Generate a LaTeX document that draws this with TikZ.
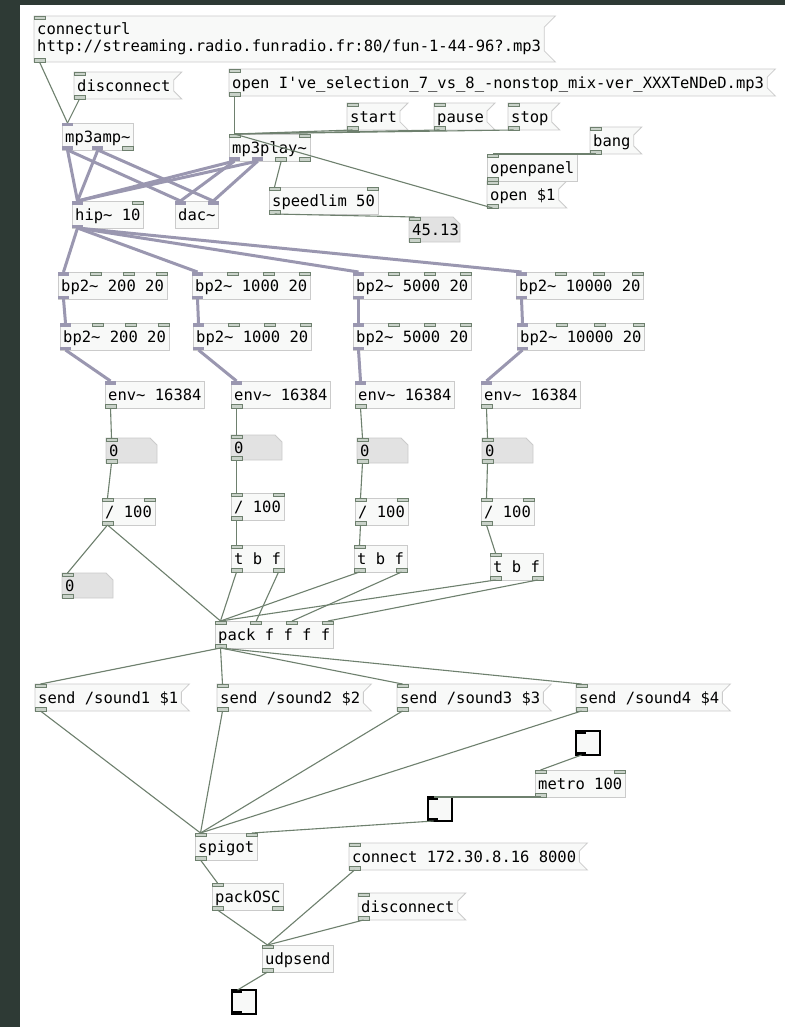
\documentclass[tikz,border=0pt]{standalone}
\usepackage{fontspec}
\setmonofont{DejaVu Sans Mono}
\usepackage{xcolor}
\usepackage{tikz}
\usetikzlibrary{calc, backgrounds}
\definecolor{canvasdark}{HTML}{2E3A35}
\definecolor{boxline}{HTML}{CBCBCB}
\definecolor{boxfill}{HTML}{F8F9F8}
\definecolor{atomfill}{HTML}{E2E2E2}
\definecolor{ctlwire}{HTML}{6E806E}
\definecolor{sigwire}{HTML}{9A97B0}
\definecolor{portfill}{HTML}{C9D2C9}
\newcommand*\pdfont{\ttfamily\fontsize{15.5}{17}\selectfont}
\newcommand*\iport[2]{($([xshift=5.5pt]#1.north west)!#2!([xshift=-5.5pt]#1.north east)$)}
\newcommand*\oport[2]{($([xshift=5.5pt]#1.south west)!#2!([xshift=-5.5pt]#1.south east)$)}
\newcommand*\ctlin[2]{\draw[ctlport] \iport{#1}{#2} ++(-5.5,0) rectangle ++(11,3.5);}
\newcommand*\ctlout[2]{\draw[ctlport] \oport{#1}{#2} ++(-5.5,0) rectangle ++(11,-3.5);}
\newcommand*\sigin[2]{\fill[sigport] \iport{#1}{#2} ++(-5.5,0) rectangle ++(11,3.5);}
\newcommand*\sigout[2]{\fill[sigport] \oport{#1}{#2} ++(-5.5,0) rectangle ++(11,-3.5);}
\tikzstyle{pdbase} = [rectangle, anchor=north west, inner xsep=3.2pt, inner ysep=0pt, outer sep=0pt, font=\pdfont, text=black]
\tikzstyle{obj} = [pdbase, draw=boxline, fill=boxfill, line width=0.8pt, text height=19.5pt, text depth=7.5pt]
\tikzstyle{msg} = [pdbase, text height=19.5pt, text depth=7.5pt]
\tikzstyle{atom} = [pdbase, text width=44.6pt, align=left, text height=18.5pt, text depth=6.5pt]
\tikzstyle{toggle} = [rectangle, anchor=north west, draw=black, line width=1.3pt, fill=boxfill, minimum size=24pt, inner sep=0pt, outer sep=0pt]
\tikzstyle{flag} = [draw=boxline, fill=boxfill, line width=0.8pt]
\tikzstyle{ctl} = [ctlwire, line width=1.1pt]
\tikzstyle{sig} = [sigwire, line width=3pt]
\tikzstyle{ctlport} = [draw=ctlwire, fill=portfill, line width=0.7pt]
\tikzstyle{sigport} = [sigwire]

\begin{document}
\begin{tikzpicture}[x=1pt, y=-1pt]
    % === CANVAS ===
    \begin{scope}[on background layer]
        \fill[canvasdark] (0,0) rectangle (785,1027);
        \fill[white] (20,5) rectangle (785,1027);
    \end{scope}
    \useasboundingbox (0,0) rectangle (785,1027);

    % === PLAYER ===
    \node (url) [pdbase, align=left, minimum height=46pt] at (34,16) {connecturl\\http://streaming.radio.funradio.fr:80/fun-1-44-96?.mp3};
    \node (disc) [msg] at (74,72) {disconnect};
    \node (openmsg) [msg] at (229,69) {open I've\_selection\_7\_vs\_8\_-nonstop\_mix-ver\_XXXTeNDeD.mp3};
    \node (start) [msg] at (347,103) {start};
    \node (pause) [msg] at (434,103) {pause};
    \node (stop) [msg] at (508,103) {stop};
    \node (mp3amp) [obj] at (62,123) {mp3amp\textasciitilde};
    \node (mp3play) [obj] at (229,134) {mp3play\textasciitilde};
    \node (bang) [msg] at (590,127) {bang};
    \node (openpanel) [obj] at (487,154) {openpanel};
    \node (openarg) [msg] at (487,181) {open \$1};
    \node (speedlim) [obj] at (269,187) {speedlim 50};
    \node (speednum) [atom] at (409,217) {45.13};
    \node (hip) [obj] at (72,201) {hip\textasciitilde{} 10};
    \node (dac) [obj] at (175,201) {dac\textasciitilde};

    % === FILTER BANK ===
    \foreach \c/\f/\xa/\xb/\xe/\xn/\yn/\xd/\yd in {a/200/58/60/105/106/438/102/498, b/1000/192/193/231/231/435/231/493, c/5000/353/353/355/357/438/355/498, d/10000/516/517/481/482/438/481/498} {
        \node (bp\c1) [obj] at (\xa,272) {bp2\textasciitilde{} \f{} 20};
        \node (bp\c2) [obj] at (\xb,323) {bp2\textasciitilde{} \f{} 20};
        \node (env\c) [obj] at (\xe,381) {env\textasciitilde{} 16384};
        \node (num\c) [atom] at (\xn,\yn) {0};
        \node (div\c) [obj] at (\xd,\yd) {/ 100};
    }
    \node (trgb) [obj] at (231,545) {t b f};
    \node (trgc) [obj] at (354,545) {t b f};
    \node (trgd) [obj] at (490,553) {t b f};
    \node (numlone) [atom] at (62,573) {0};

    % === OSC OUTPUT ===
    \node (pack) [obj] at (215,621) {pack f f f f};
    \foreach \c/\n/\x in {a/1/35, b/2/217, c/3/397, d/4/576}
        \node (send\c) [msg] at (\x,684) {send /sound\n{} \$\n};
    \node (toga) [toggle] at (576,731) {};
    \node (metro) [obj] at (535,770) {metro 100};
    \node (togb) [toggle] at (428,797) {};
    \node (spigot) [obj] at (195,833) {spigot};
    \node (connect) [msg] at (349,843) {connect 172.30.8.16 8000};
    \node (packosc) [obj] at (212,883) {packOSC};
    \node (disc2) [msg] at (358,893) {disconnect};
    \node (udpsend) [obj] at (262,945) {udpsend};
    \node (togc) [toggle] at (232,990) {};

    % message and number box outlines
    \begin{scope}[on background layer]
        \foreach \m/\k in {url/11, disc/8, openmsg/8, start/8, pause/8, stop/8, bang/8, openarg/8, senda/8, sendb/8, sendc/8, sendd/8, connect/8, disc2/8}
            \draw[flag] (\m.north west) -- ([xshift=\k pt]\m.north east) -- ([yshift=-\k pt]\m.north east) -- ([yshift=\k pt]\m.south east) -- ([xshift=\k pt]\m.south east) -- (\m.south west) -- cycle;
        \foreach \m in {speednum, numa, numb, numc, numd, numlone}
            \draw[flag, fill=atomfill] (\m.north west) -- ([xshift=-7pt]\m.north east) -- ([yshift=-7pt]\m.north east) -- (\m.south east) -- (\m.south west) -- cycle;
    \end{scope}

    % === INLETS AND OUTLETS ===
    \foreach \m in {url, disc, openmsg, start, pause, stop, bang, openarg, openpanel, speednum, numa, numb, numc, numd, numlone, senda, sendb, sendc, sendd, connect, disc2, udpsend} {
        \ctlin{\m}{0} \ctlout{\m}{0}
    }
    \foreach \m in {speedlim, diva, divb, divc, divd, metro, spigot} {
        \ctlin{\m}{0} \ctlin{\m}{1} \ctlout{\m}{0}
    }
    \foreach \m in {trgb, trgc, trgd, packosc} {
        \ctlin{\m}{0} \ctlout{\m}{0} \ctlout{\m}{1}
    }
    \ctlin{pack}{0} \ctlin{pack}{0.3333} \ctlin{pack}{0.6667} \ctlin{pack}{1} \ctlout{pack}{0}
    \sigin{mp3amp}{0} \sigout{mp3amp}{0} \sigout{mp3amp}{0.5} \ctlout{mp3amp}{1}
    \ctlin{mp3play}{0} \ctlin{mp3play}{1} \sigout{mp3play}{0} \sigout{mp3play}{0.3333} \ctlout{mp3play}{0.6667} \ctlout{mp3play}{1}
    \sigin{hip}{0} \ctlin{hip}{1} \sigout{hip}{0}
    \sigin{dac}{0} \sigin{dac}{1}
    \foreach \c in {a,b,c,d} {
        \sigin{bp\c1}{0} \ctlin{bp\c1}{0.3333} \ctlin{bp\c1}{0.6667} \ctlin{bp\c1}{1} \sigout{bp\c1}{0}
        \sigin{bp\c2}{0} \ctlin{bp\c2}{0.3333} \ctlin{bp\c2}{0.6667} \ctlin{bp\c2}{1} \sigout{bp\c2}{0}
        \sigin{env\c}{0} \ctlout{env\c}{0}
    }
    \foreach \t in {toga, togb, togc} {
        \fill (\t.north west) rectangle ++(10,3);
        \fill (\t.south west) rectangle ++(10,-3);
    }

    % === CORDS ===

    % player control
    \draw [ctl] \oport{url}{0} -- \iport{mp3amp}{0};
    \draw [ctl] \oport{disc}{0} -- \iport{mp3amp}{0};
    \foreach \m in {openmsg, start, pause, stop, openarg}
        \draw [ctl] \oport{\m}{0} -- \iport{mp3play}{0};
    \draw [ctl] \oport{bang}{0} -- \iport{openpanel}{0};
    \draw [ctl] \oport{openpanel}{0} -- \iport{openarg}{0};
    \draw [ctl] \oport{mp3play}{0.6667} -- \iport{speedlim}{0};
    \draw [ctl] \oport{speedlim}{0} -- \iport{speednum}{0};

    % audio out
    \foreach \s/\k in {mp3amp/0.5, mp3play/0.3333} {
        \draw [sig] \oport{\s}{0} -- \iport{hip}{0};
        \draw [sig] \oport{\s}{0} -- \iport{dac}{0};
        \draw [sig] \oport{\s}{\k} -- \iport{hip}{0};
        \draw [sig] \oport{\s}{\k} -- \iport{dac}{1};
    }

    % filter bank
    \foreach \c in {a,b,c,d} {
        \draw [sig] \oport{hip}{0} -- \iport{bp\c1}{0};
        \draw [sig] \oport{bp\c1}{0} -- \iport{bp\c2}{0};
        \draw [sig] \oport{bp\c2}{0} -- \iport{env\c}{0};
        \draw [ctl] \oport{env\c}{0} -- \iport{num\c}{0};
        \draw [ctl] \oport{num\c}{0} -- \iport{div\c}{0};
    }
    \foreach \c in {b,c,d}
        \draw [ctl] \oport{div\c}{0} -- \iport{trg\c}{0};
    \draw [ctl] \oport{diva}{0} -- \iport{numlone}{0};
    \draw [ctl] \oport{diva}{0} -- \iport{pack}{0};
    \foreach \c/\k in {b/0.3333, c/0.6667, d/1} {
        \draw [ctl] \oport{trg\c}{0} -- \iport{pack}{0};
        \draw [ctl] \oport{trg\c}{1} -- \iport{pack}{\k};
    }

    % OSC
    \foreach \c in {a,b,c,d} {
        \draw [ctl] \oport{pack}{0} -- \iport{send\c}{0};
        \draw [ctl] \oport{send\c}{0} -- \iport{spigot}{0};
    }
    \draw [ctl] \oport{toga}{0} -- \iport{metro}{0};
    \draw [ctl] \oport{metro}{0} -- \iport{togb}{0};
    \draw [ctl] \oport{togb}{0} -- \iport{spigot}{1};
    \draw [ctl] \oport{spigot}{0} -- \iport{packosc}{0};
    \foreach \m in {packosc, connect, disc2}
        \draw [ctl] \oport{\m}{0} -- \iport{udpsend}{0};
    \draw [ctl] \oport{udpsend}{0} -- \iport{togc}{0};

\end{tikzpicture}
\end{document}
